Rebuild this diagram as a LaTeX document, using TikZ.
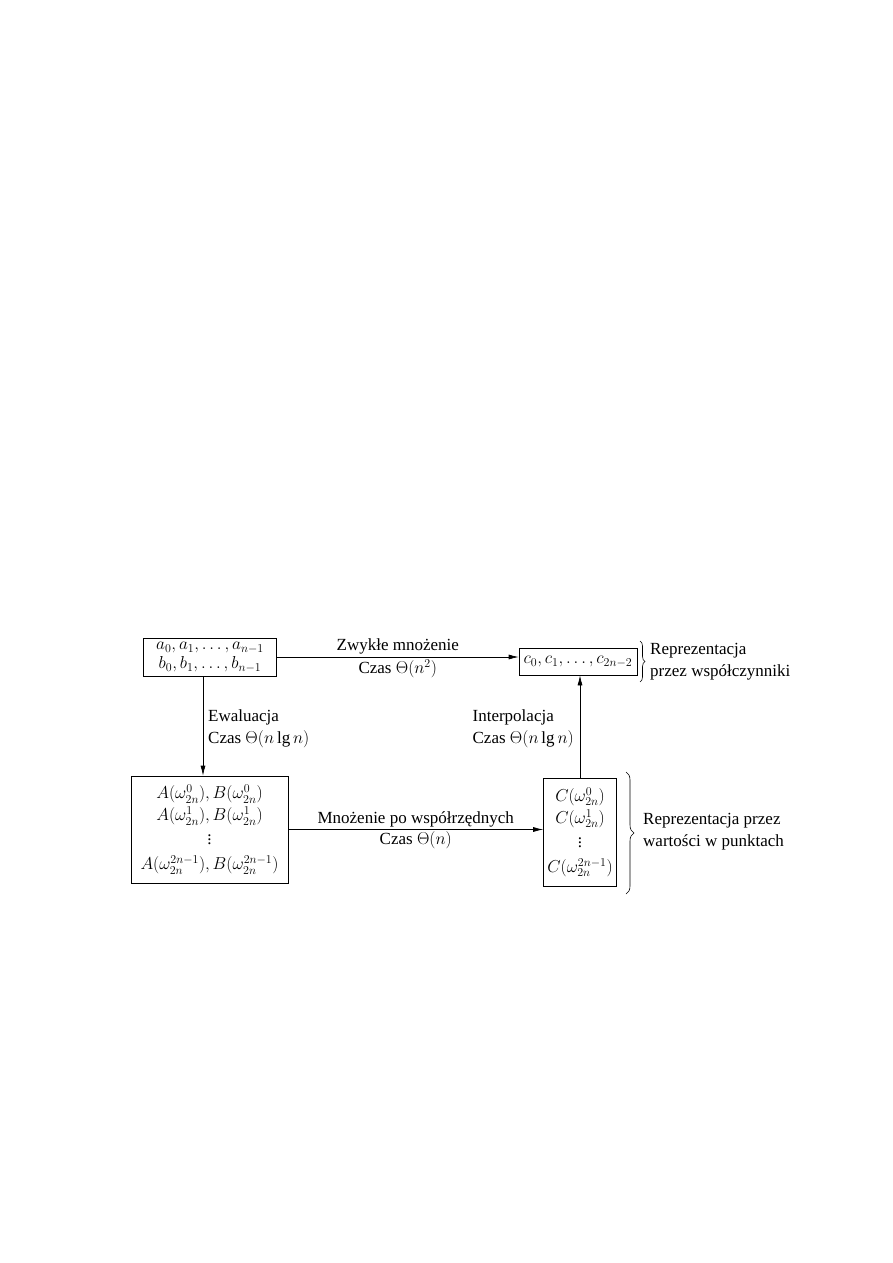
\documentclass[tikz,border=0pt]{standalone}
\usepackage{fontspec}
\setmainfont{Liberation Serif}
\usetikzlibrary{decorations.pathreplacing,arrows.meta}
\begin{document}
\begin{tikzpicture}[x=1pt,y=-1pt,
  every node/.style={font=\fontsize{17}{22}\selectfont},
  box/.style={draw,line width=0.7pt,align=center,inner sep=0pt},
  conn/.style={line width=0.7pt,-{Latex[length=10pt,width=5pt]}},
  lbl/.style={inner sep=2pt},
  brc/.style={decorate,line width=0.6pt}]
\useasboundingbox (0,0) rectangle (893,1263);
\node[box,minimum width=133pt,minimum height=38pt] (coef) at (210,657)
  {$a_0, a_1, \ldots, a_{n-1}$\\[-3pt] $b_0, b_1, \ldots, b_{n-1}$};
\node[box,minimum width=118pt,minimum height=27pt] (cres) at (578,661.5)
  {$c_0, c_1, \ldots, c_{2n-2}$};
\node[box,minimum width=157pt,minimum height=107pt] (ab) at (209.5,829.5)
  {$A(\omega_{2n}^0), B(\omega_{2n}^0)$\\[0pt]
   $A(\omega_{2n}^1), B(\omega_{2n}^1)$\\[2pt]
   $\smash{\vdots}$\\[3pt]
   $A(\omega_{2n}^{2n-1}), B(\omega_{2n}^{2n-1})$};
\node[box,minimum width=73pt,minimum height=108pt] (cv) at (580,832)
  {$C(\omega_{2n}^0)$\\[0pt]
   $C(\omega_{2n}^1)$\\[2pt]
   $\smash{\vdots}$\\[3pt]
   $C(\omega_{2n}^{2n-1})$};
% top arrow
\draw[conn] (coef.east) -- (coef.east -| cres.west)
  node[midway,above,lbl] (l1) {Zwykłe mnożenie}
  node[midway,below,lbl] (l2) {Czas $\Theta(n^2)$};
% down arrow
\draw[conn] ([xshift=-7pt]coef.south) -- ([xshift=-7pt]coef.south |- ab.north);
\node[anchor=west,align=left,lbl] (l3) at (206,729)
  {Ewaluacja\\Czas $\Theta(n\lg n)$};
% bottom arrow
\draw[conn] (ab.east) -- (ab.east -| cv.west)
  node[midway,above,lbl] (l4) {Mnożenie po współrzędnych}
  node[midway,below,lbl] (l5) {Czas $\Theta(n)$};
% up arrow
\draw[conn] (cv.north) -- (cv.north |- cres.south);
\node[anchor=east,align=left,lbl] (l6) at (576,729)
  {Interpolacja\\Czas $\Theta(n\lg n)$};
% braces
\coordinate (b1t) at (640,641);
\coordinate (b1b) at (640,682);
\draw[brc,decoration={brace,amplitude=5pt}] (b1t) -- (b1b);
\node[anchor=west,align=left,inner sep=0pt] (r1) at (650,662)
  {Reprezentacja\\przez współczynniki};
\coordinate (b2t) at (626,772);
\coordinate (b2b) at (626,894);
\draw[brc,decoration={brace,amplitude=8pt}] (b2t) -- (b2b);
\node[anchor=west,align=left,inner sep=0pt] (r2) at (643,832)
  {Reprezentacja przez\\wartości w punktach};
\end{tikzpicture}
\end{document}
